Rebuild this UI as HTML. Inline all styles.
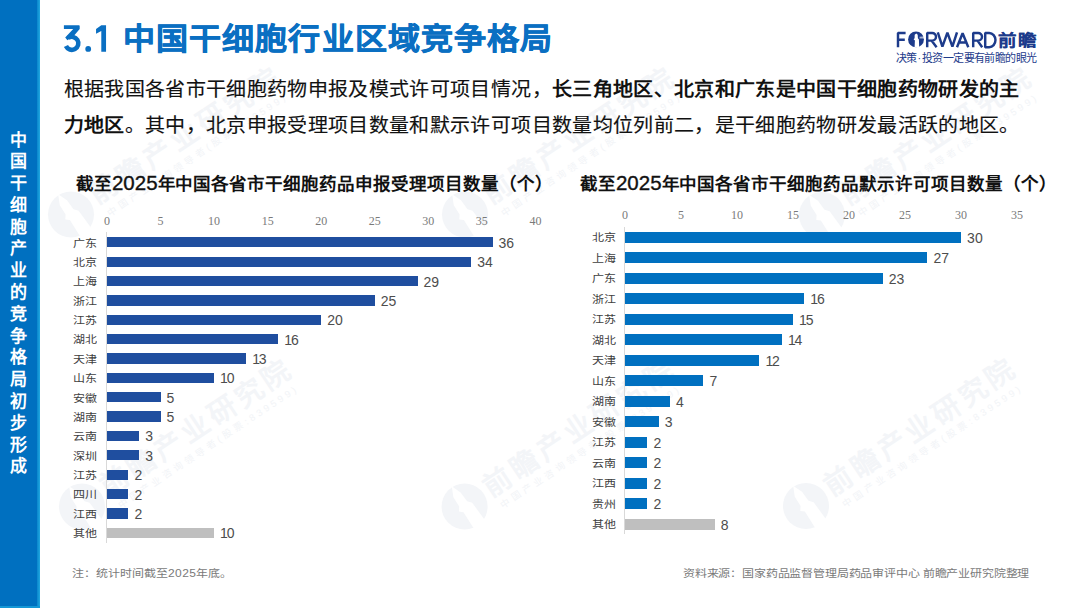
<!DOCTYPE html>
<html lang="zh-CN"><head><meta charset="utf-8">
<style>
html,body{margin:0;padding:0;}
body{width:1080px;height:608px;position:relative;overflow:hidden;background:#fff;font-family:"Liberation Sans",sans-serif;}
.abs{position:absolute;white-space:nowrap;}
#side{position:absolute;left:0;top:0;width:37px;height:608px;background:#0070c0;}
#side2{position:absolute;left:37px;top:0;width:2.5px;height:608px;background:linear-gradient(90deg,#0a86cc,#22a8e0);}
#side3{position:absolute;left:0;top:606.3px;width:39.5px;height:1.7px;background:#1597d6;}
#sidetxt{position:absolute;left:0;top:129.5px;width:37px;text-align:center;color:#fff;font-weight:bold;font-size:17px;line-height:21.8px;}
#title{left:123px;top:19.3px;font-size:32px;font-weight:bold;color:#0a6fc2;line-height:40px;letter-spacing:1.1px;-webkit-text-stroke:0.6px #0a6fc2;transform:scaleY(0.93);}
#title .d{font-weight:bold;font-size:37px;letter-spacing:-0.5px;display:inline-block;transform:scaleY(1.1);transform-origin:50% 80%;margin-right:11px;position:relative;top:2.5px;}
.body{font-size:20px;color:#111;line-height:24px;letter-spacing:0.34px;transform:scaleY(0.94);-webkit-text-stroke:0.15px #111;}
.body b{-webkit-text-stroke:0;}
.ctitle{font-size:17.5px;font-weight:bold;color:#111;line-height:22px;letter-spacing:0.96px;}
.ctitle .d{font-weight:normal;font-size:20.5px;letter-spacing:0px;-webkit-text-stroke:0.35px #111;}
.axis{position:absolute;width:1px;background:#d9d9d9;}
.tick{position:absolute;width:40px;text-align:center;font-family:"Liberation Serif",serif;font-size:12px;color:#7a7a7a;line-height:12px;}
.cat{position:absolute;width:50px;text-align:right;font-size:12px;color:#404040;line-height:20px;transform:scaleY(0.87);}
.bar{position:absolute;}
.val{position:absolute;font-size:14px;color:#4d4d4d;line-height:20px;}
.note{font-size:12px;color:#7a7a7a;line-height:16px;transform:scaleY(0.87);transform-origin:0 100%;}
.note .d{letter-spacing:0.4px;}
</style></head><body>
<svg class="abs" style="left:0;top:0" width="1080" height="608" viewBox="0 0 1080 608"><defs><g id="wm"><circle cx="0" cy="0" r="23" fill="#f3f5f8"/><g transform="rotate(-33.5)"><path d="M-4.5 24L-4 4L-7.5 1L-4.5 -3L-4.2 -14L0.5 -24L4.5 -14L5 -3L8.5 1L9.5 24Z" fill="#fff"/><text x="27" y="7" font-size="28" font-weight="bold" fill="#f3f5f8" letter-spacing="4.2" font-family="Liberation Sans, sans-serif">前瞻产业研究院</text><text x="31" y="23" font-size="9.5" fill="#f2f4f7" letter-spacing="3.2" font-family="Liberation Sans, sans-serif">中国产业咨询领导者(股票:839599)</text></g></g></defs><use href="#wm" transform="translate(71,214.5)"/><use href="#wm" transform="translate(465,214.5)"/><use href="#wm" transform="translate(822,215)"/><use href="#wm" transform="translate(82,506.5)"/><use href="#wm" transform="translate(464.6,506.6)"/><use href="#wm" transform="translate(806,506)"/></svg>
<div id="side"></div><div id="side2"></div><div id="side3"></div>
<div id="sidetxt">中<br>国<br>干<br>细<br>胞<br>产<br>业<br>的<br>竞<br>争<br>格<br>局<br>初<br>步<br>形<br>成</div>
<svg class="abs" style="left:890px;top:25px" width="150" height="26" viewBox="890 25 150 26">
<g fill="none" stroke="#1d3b8b" stroke-width="2.45" stroke-linejoin="bevel">
<path d="M898 47.2V33H905.6M898 39.8H904.8"/>
<path d="M927.2 47.2V33H932.2A3.6 3.6 0 0 1 932.2 40.6H927.2M931.5 40.6L936.6 47.2"/>
<path d="M937.8 32.4L942.4 46.6L947.4 32.6L952.4 46.6L957 32.4"/>
<path d="M957 47.2L962.6 33.2L968.3 47.2M959.4 42.4H965.8"/>
<path d="M973.2 47.2V33H978.2A3.6 3.6 0 0 1 978.2 40.6H973.2M977.5 40.6L982.2 47.2"/>
<path d="M985.2 47.2V33H989.2A6.2 7 0 0 1 989.2 47.2Z"/>
</g>
<circle cx="916" cy="39.4" r="7.9" fill="#1d3b8b"/>
<path d="M914.6 47.6L914.9 40.5L913.6 39.3L914.6 38.2L914.7 34.8L916.3 33.4L917.7 34.8L917.9 38.2L918.9 39.5L919.2 47.6Z" fill="#fff"/>
<path d="M919.5 36.8L925 36.2L925 38.4L919.6 38.6Z" fill="#fff" opacity="0.6"/>
</svg>
<div class="abs" style="left:997.5px;top:30.5px;font-size:18.5px;line-height:22px;font-weight:bold;color:#1d3b8b;letter-spacing:1.5px;transform:scaleY(0.86);transform-origin:0 0;-webkit-text-stroke:0.15px #1d3b8b">前瞻</div>
<div class="abs" style="left:895.5px;top:51px;font-size:11px;line-height:14px;color:#1d3b8b;letter-spacing:-0.56px">决策<span style="margin:0 1.3px 0 1px">·</span>投资一定要有前瞻的眼光</div>
<svg class="abs" style="left:55px;top:18px" width="60" height="40" viewBox="55 18 60 40"><g fill="#0a6fc2">
<path d="M63.9 25.2H78.9Q79.7 25.2 79.7 26V29.1L73.7 35.9L67.4 40.3L65.2 37.6L73.2 29.1H63.9Z"/>
<path d="M68.11 37.98A6.5 6.5 0 1 1 65.95 46.05" fill="none" stroke="#0a6fc2" stroke-width="4.6"/>
<circle cx="88.2" cy="48.9" r="2.9"/>
<path d="M101.3 25.2H106.05V51.7H101.3V30.9L96.05 33.8V29.1Z"/>
</g></svg>
<div id="title" class="abs">中国干细胞行业区域竞争格局</div>
<div class="abs body" style="left:63.7px;top:77px">根据我国各省市干细胞药物申报及模式许可项目情况，<b>长三角地区、北京和广东是中国干细胞药物研发的主</b></div>
<div class="abs body" style="left:63.7px;top:113px"><b>力地区</b>。其中，北京申报受理项目数量和默示许可项目数量均位列前二，是干细胞药物研发最活跃的地区。</div>
<div class="abs ctitle" style="left:76px;top:172px">截至<span class="d">2025</span>年中国各省市干细胞药品申报受理项目数量（个）</div>
<div class="abs ctitle" style="left:580px;top:172px">截至<span class="d">2025</span>年中国各省市干细胞药品默示许可项目数量（个）</div>
<div class="axis" style="left:106.00px;top:232.00px;height:310.50px"></div>
<div class="tick" style="left:87.00px;top:215.00px">0</div>
<div class="tick" style="left:140.55px;top:215.00px">5</div>
<div class="tick" style="left:194.10px;top:215.00px">10</div>
<div class="tick" style="left:247.65px;top:215.00px">15</div>
<div class="tick" style="left:301.20px;top:215.00px">20</div>
<div class="tick" style="left:354.75px;top:215.00px">25</div>
<div class="tick" style="left:408.30px;top:215.00px">30</div>
<div class="tick" style="left:461.85px;top:215.00px">35</div>
<div class="tick" style="left:515.40px;top:215.00px">40</div>
<div class="cat" style="left:47.00px;top:233.65px">广东</div>
<div class="bar" style="left:107.00px;top:237.20px;width:385.56px;height:10.30px;background:#1f4e9f"></div>
<div class="val" style="left:498.56px;top:232.85px">36</div>
<div class="cat" style="left:47.00px;top:253.01px">北京</div>
<div class="bar" style="left:107.00px;top:256.56px;width:364.14px;height:10.30px;background:#1f4e9f"></div>
<div class="val" style="left:477.14px;top:252.21px">34</div>
<div class="cat" style="left:47.00px;top:272.37px">上海</div>
<div class="bar" style="left:107.00px;top:275.92px;width:310.59px;height:10.30px;background:#1f4e9f"></div>
<div class="val" style="left:423.59px;top:271.57px">29</div>
<div class="cat" style="left:47.00px;top:291.73px">浙江</div>
<div class="bar" style="left:107.00px;top:295.28px;width:267.75px;height:10.30px;background:#1f4e9f"></div>
<div class="val" style="left:380.75px;top:290.93px">25</div>
<div class="cat" style="left:47.00px;top:311.09px">江苏</div>
<div class="bar" style="left:107.00px;top:314.64px;width:214.20px;height:10.30px;background:#1f4e9f"></div>
<div class="val" style="left:327.20px;top:310.29px">20</div>
<div class="cat" style="left:47.00px;top:330.45px">湖北</div>
<div class="bar" style="left:107.00px;top:334.00px;width:171.36px;height:10.30px;background:#1f4e9f"></div>
<div class="val" style="left:284.36px;top:329.65px"><span style="letter-spacing:-1.2px">1</span>6</div>
<div class="cat" style="left:47.00px;top:349.81px">天津</div>
<div class="bar" style="left:107.00px;top:353.36px;width:139.23px;height:10.30px;background:#1f4e9f"></div>
<div class="val" style="left:252.23px;top:349.01px"><span style="letter-spacing:-1.2px">1</span>3</div>
<div class="cat" style="left:47.00px;top:369.17px">山东</div>
<div class="bar" style="left:107.00px;top:372.72px;width:107.10px;height:10.30px;background:#1f4e9f"></div>
<div class="val" style="left:220.10px;top:368.37px"><span style="letter-spacing:-1.2px">1</span>0</div>
<div class="cat" style="left:47.00px;top:388.53px">安徽</div>
<div class="bar" style="left:107.00px;top:392.08px;width:53.55px;height:10.30px;background:#1f4e9f"></div>
<div class="val" style="left:166.55px;top:387.73px">5</div>
<div class="cat" style="left:47.00px;top:407.89px">湖南</div>
<div class="bar" style="left:107.00px;top:411.44px;width:53.55px;height:10.30px;background:#1f4e9f"></div>
<div class="val" style="left:166.55px;top:407.09px">5</div>
<div class="cat" style="left:47.00px;top:427.25px">云南</div>
<div class="bar" style="left:107.00px;top:430.80px;width:32.13px;height:10.30px;background:#1f4e9f"></div>
<div class="val" style="left:145.13px;top:426.45px">3</div>
<div class="cat" style="left:47.00px;top:446.61px">深圳</div>
<div class="bar" style="left:107.00px;top:450.16px;width:32.13px;height:10.30px;background:#1f4e9f"></div>
<div class="val" style="left:145.13px;top:445.81px">3</div>
<div class="cat" style="left:47.00px;top:465.97px">江苏</div>
<div class="bar" style="left:107.00px;top:469.52px;width:21.42px;height:10.30px;background:#1f4e9f"></div>
<div class="val" style="left:134.42px;top:465.17px">2</div>
<div class="cat" style="left:47.00px;top:485.33px">四川</div>
<div class="bar" style="left:107.00px;top:488.88px;width:21.42px;height:10.30px;background:#1f4e9f"></div>
<div class="val" style="left:134.42px;top:484.53px">2</div>
<div class="cat" style="left:47.00px;top:504.69px">江西</div>
<div class="bar" style="left:107.00px;top:508.24px;width:21.42px;height:10.30px;background:#1f4e9f"></div>
<div class="val" style="left:134.42px;top:503.89px">2</div>
<div class="cat" style="left:47.00px;top:524.05px">其他</div>
<div class="bar" style="left:107.00px;top:527.60px;width:107.10px;height:10.30px;background:#bfbfbf"></div>
<div class="val" style="left:220.10px;top:523.25px"><span style="letter-spacing:-1.2px">1</span>0</div>
<div class="axis" style="left:624.10px;top:226.50px;height:307.50px"></div>
<div class="tick" style="left:605.10px;top:208.70px">0</div>
<div class="tick" style="left:661.10px;top:208.70px">5</div>
<div class="tick" style="left:717.10px;top:208.70px">10</div>
<div class="tick" style="left:773.10px;top:208.70px">15</div>
<div class="tick" style="left:829.10px;top:208.70px">20</div>
<div class="tick" style="left:885.10px;top:208.70px">25</div>
<div class="tick" style="left:941.10px;top:208.70px">30</div>
<div class="tick" style="left:997.10px;top:208.70px">35</div>
<div class="cat" style="left:566.10px;top:228.10px">北京</div>
<div class="bar" style="left:625.10px;top:231.80px;width:336.00px;height:10.80px;background:#0070c0"></div>
<div class="val" style="left:967.10px;top:227.70px">30</div>
<div class="cat" style="left:566.10px;top:248.61px">上海</div>
<div class="bar" style="left:625.10px;top:252.31px;width:302.40px;height:10.80px;background:#0070c0"></div>
<div class="val" style="left:933.50px;top:248.21px">27</div>
<div class="cat" style="left:566.10px;top:269.12px">广东</div>
<div class="bar" style="left:625.10px;top:272.82px;width:257.60px;height:10.80px;background:#0070c0"></div>
<div class="val" style="left:888.70px;top:268.72px">23</div>
<div class="cat" style="left:566.10px;top:289.63px">浙江</div>
<div class="bar" style="left:625.10px;top:293.33px;width:179.20px;height:10.80px;background:#0070c0"></div>
<div class="val" style="left:810.30px;top:289.23px"><span style="letter-spacing:-1.2px">1</span>6</div>
<div class="cat" style="left:566.10px;top:310.14px">江苏</div>
<div class="bar" style="left:625.10px;top:313.84px;width:168.00px;height:10.80px;background:#0070c0"></div>
<div class="val" style="left:799.10px;top:309.74px"><span style="letter-spacing:-1.2px">1</span>5</div>
<div class="cat" style="left:566.10px;top:330.65px">湖北</div>
<div class="bar" style="left:625.10px;top:334.35px;width:156.80px;height:10.80px;background:#0070c0"></div>
<div class="val" style="left:787.90px;top:330.25px"><span style="letter-spacing:-1.2px">1</span>4</div>
<div class="cat" style="left:566.10px;top:351.16px">天津</div>
<div class="bar" style="left:625.10px;top:354.86px;width:134.40px;height:10.80px;background:#0070c0"></div>
<div class="val" style="left:765.50px;top:350.76px"><span style="letter-spacing:-1.2px">1</span>2</div>
<div class="cat" style="left:566.10px;top:371.67px">山东</div>
<div class="bar" style="left:625.10px;top:375.37px;width:78.40px;height:10.80px;background:#0070c0"></div>
<div class="val" style="left:709.50px;top:371.27px">7</div>
<div class="cat" style="left:566.10px;top:392.18px">湖南</div>
<div class="bar" style="left:625.10px;top:395.88px;width:44.80px;height:10.80px;background:#0070c0"></div>
<div class="val" style="left:675.90px;top:391.78px">4</div>
<div class="cat" style="left:566.10px;top:412.69px">安徽</div>
<div class="bar" style="left:625.10px;top:416.39px;width:33.60px;height:10.80px;background:#0070c0"></div>
<div class="val" style="left:664.70px;top:412.29px">3</div>
<div class="cat" style="left:566.10px;top:433.20px">江苏</div>
<div class="bar" style="left:625.10px;top:436.90px;width:22.40px;height:10.80px;background:#0070c0"></div>
<div class="val" style="left:653.50px;top:432.80px">2</div>
<div class="cat" style="left:566.10px;top:453.71px">云南</div>
<div class="bar" style="left:625.10px;top:457.41px;width:22.40px;height:10.80px;background:#0070c0"></div>
<div class="val" style="left:653.50px;top:453.31px">2</div>
<div class="cat" style="left:566.10px;top:474.22px">江西</div>
<div class="bar" style="left:625.10px;top:477.92px;width:22.40px;height:10.80px;background:#0070c0"></div>
<div class="val" style="left:653.50px;top:473.82px">2</div>
<div class="cat" style="left:566.10px;top:494.73px">贵州</div>
<div class="bar" style="left:625.10px;top:498.43px;width:22.40px;height:10.80px;background:#0070c0"></div>
<div class="val" style="left:653.50px;top:494.33px">2</div>
<div class="cat" style="left:566.10px;top:515.24px">其他</div>
<div class="bar" style="left:625.10px;top:518.94px;width:89.60px;height:10.80px;background:#bfbfbf"></div>
<div class="val" style="left:720.70px;top:514.84px">8</div>
<div class="abs note" style="left:72px;top:563.5px">注：统计时间截至<span class="d">2025</span>年底。</div>
<div class="abs note" style="left:683px;top:563.5px;font-size:12px;letter-spacing:-0.17px">资料来源：国家药品监督管理局药品审评中心 前瞻产业研究院整理</div>
</body></html>
